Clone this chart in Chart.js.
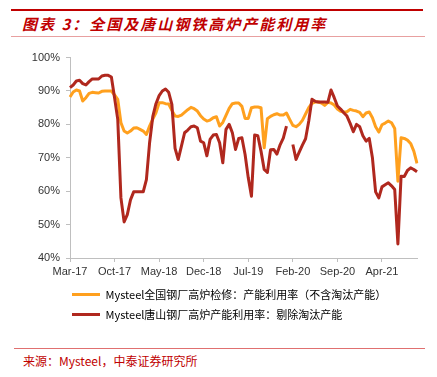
<!DOCTYPE html>
<html lang="zh">
<head>
  <meta charset="UTF-8">
  <title>全国及唐山钢铁高炉产能利用率</title>
  <script src="https://cdn.jsdelivr.net/npm/chart.js"></script>
  <style>
    body { margin: 0; width: 437px; height: 377px; background: #fff; position: relative; overflow: hidden; }
    .topbar { position: absolute; left: 11px; top: 9px; width: 412px; height: 2px; background: #c00000; }
    .title { position: absolute; left: 22px; top: 14px; line-height: 20px; font-size: 15px; font-weight: bold; font-style: italic;
      color: #c00000; letter-spacing: 2px; font-family: "Noto Sans CJK SC", sans-serif; white-space: nowrap; }
    .titleline { position: absolute; left: 11px; top: 36px; width: 414px; height: 1px; background: #e8a0a0; }
    .chart-box { position: absolute; left: 0; top: 45px; width: 437px; height: 290px; }
    .footline { position: absolute; left: 14px; top: 348px; width: 411px; height: 1px; background: #e07070; }
    .source { position: absolute; left: 23px; top: 353px; line-height: 16px; font-size: 12px; color: #c00000;
      font-family: "Noto Sans CJK SC", sans-serif; white-space: nowrap; }
  </style>
</head>
<body>
  <div class="topbar"></div>
  <div class="title">图表 3：全国及唐山钢铁高炉产能利用率</div>
  <div class="titleline"></div>
  <div class="chart-box"><canvas id="chart"></canvas></div>
  <div class="footline"></div>
  <div class="source">来源：Mysteel，中泰证券研究所</div>

  <script>
    // x轴刻度（每7个月一个）
    const tickLabels = ["Mar-17", "Oct-17", "May-18", "Dec-18", "Jul-19", "Feb-20", "Sep-20", "Apr-21"];

    // 全国：高炉检修口径，不含淘汰产能（半月取点，%）
    const national = [
      88.2, 89.7, 90.3, 90.0, 87.0, 88.0, 89.3, 89.6, 89.5, 89.4,
      89.9, 90.0, 90.0, 90.0, 88.8, 87.5, 80.5, 78.0, 77.4, 78.0,
      78.9, 79.0, 78.5, 78.0, 77.0, 79.5, 81.6, 83.5, 86.5, 86.5,
      86.2, 86.1, 84.2, 82.5, 82.4, 82.8, 83.6, 84.4, 85.1, 84.7,
      84.0, 82.6, 81.6, 81.0, 81.3, 82.0, 82.3, 79.5, 80.6, 82.7,
      84.8, 86.2, 86.4, 86.4, 85.4, 81.8, 81.8, 85.0, 85.2, 85.2,
      85.0, 73.0, 81.7, 82.4, 82.9, 83.2, 82.8, 82.8, 83.4, 81.5,
      79.7, 79.3, 80.0, 81.2, 83.1, 85.0, 86.3, 86.7, 86.7, 86.4,
      85.7, 86.6, 86.4, 85.8, 84.6, 83.9, 83.7, 83.8, 84.5, 84.2,
      84.0, 83.6, 82.3, 83.4, 83.7, 82.0, 79.3, 77.7, 79.9, 80.4,
      81.0, 80.5, 78.8, 63.0, 76.0, 75.8, 75.3, 74.3, 72.0, 68.3
    ];

    // 唐山：剔除淘汰产能（半月取点，%）
    const tangshan = [
      91.0, 91.8, 93.0, 93.2, 92.2, 91.8, 92.8, 93.6, 93.6, 93.6,
      94.5, 94.7, 94.7, 94.2, 88.0, 81.5, 58.0, 50.8, 53.0, 57.4,
      59.8, 59.8, 59.8, 59.8, 63.5, 74.5, 82.3, 86.2, 88.6, 90.0,
      90.6, 89.6, 86.0, 72.8, 69.5, 73.5, 77.5, 78.3, 79.3, 79.5,
      79.0, 75.0, 74.5, 70.6, 75.5, 76.8, 77.0, 74.5, 68.5, 78.5,
      80.0, 77.5, 72.5, 75.8, 76.0, 71.0, 64.0, 58.5, 76.8, 76.6,
      72.0, 66.5, 65.6, 72.4, 72.5, 71.1, 73.9, 75.9, 79.5, null,
      74.0, 69.5, 71.7, 73.8, 75.7, 81.0, 87.5, 86.9, 86.7, 86.7,
      86.7, 86.6, 90.3, 88.0, 85.5, 84.6, 83.5, 82.5, 80.3, 77.8,
      80.0, 79.3, 76.6, 75.0, 75.8, 70.0, 59.8, 58.0, 61.3, 61.9,
      62.5, 61.6, 60.5, 44.2, 64.5, 64.4, 66.2, 67.0, 66.5, 65.8
    ];

    const seriesNames = [
      "Mysteel唐山钢厂高炉产能利用率：剔除淘汰产能",
      "Mysteel全国钢厂高炉检修：产能利用率（不含淘汰产能）"
    ];

    // 半月一个点，从2017年3月开始
    const dates = national.map((_, i) => {
      const m = 2 + Math.floor(i / 2);
      const y = 2017 + Math.floor(m / 12);
      return y + "-" + String(m % 12 + 1).padStart(2, "0") + (i % 2 ? "-16" : "-01");
    });

    const axisColor = "#bfbfbf";

    // 图例整体左移，让图例线从x轴起点附近开始
    const legendShift = {
      id: "legendShift",
      afterLayout(chart) {
        chart.legend.left = chart.chartArea.left - 7;
      }
    };

    new Chart(document.getElementById("chart"), {
      type: "line",
      data: {
        labels: dates,
        datasets: [
          { label: seriesNames[0], data: tangshan, borderColor: "#b0281e", backgroundColor: "#b0281e" },
          { label: seriesNames[1], data: national, borderColor: "#ffa01e", backgroundColor: "#ffa01e" }
        ]
      },
      options: {
        responsive: true,
        maintainAspectRatio: false,
        animation: false,
        spanGaps: false,
        layout: { padding: { top: 12, left: 30, right: 20, bottom: 5 } },
        elements: {
          line: { borderWidth: 3, tension: 0, borderJoinStyle: "round" },
          point: { radius: 0 }
        },
        scales: {
          x: {
            afterBuildTicks(scale) {
              scale.ticks = scale.ticks.filter(t => t.value % 14 === 0);
            },
            afterFit(scale) { scale.height = 22; },
            border: { color: axisColor },
            grid: { drawOnChartArea: false, color: axisColor, tickLength: 4 },
            ticks: {
              autoSkip: false, maxRotation: 0, padding: 3, color: "#333",
              font: { family: "Liberation Sans", size: 11 },
              callback: v => tickLabels[v / 14]
            }
          },
          y: {
            min: 40, max: 100,
            afterFit(scale) { scale.width = 40; },
            border: { color: axisColor },
            grid: { drawOnChartArea: false, color: axisColor, tickLength: 4 },
            ticks: {
              stepSize: 10, padding: 6, color: "#333",
              font: { family: "Liberation Sans", size: 11 },
              callback: v => v + "%"
            }
          }
        },
        plugins: {
          tooltip: { enabled: false },
          legend: {
            position: "bottom",
            align: "start",
            labels: {
              boxWidth: 28, boxHeight: 3, padding: 9, color: "#000",
              font: { family: "Noto Sans CJK SC", size: 11 },
              sort: (a, b) => b.datasetIndex - a.datasetIndex,
              generateLabels(chart) {
                return Chart.defaults.plugins.legend.labels.generateLabels(chart)
                  .map(item => Object.assign(item, { lineWidth: 0 }));
              }
            }
          }
        }
      },
      plugins: [legendShift]
    });
  </script>
</body>
</html>
